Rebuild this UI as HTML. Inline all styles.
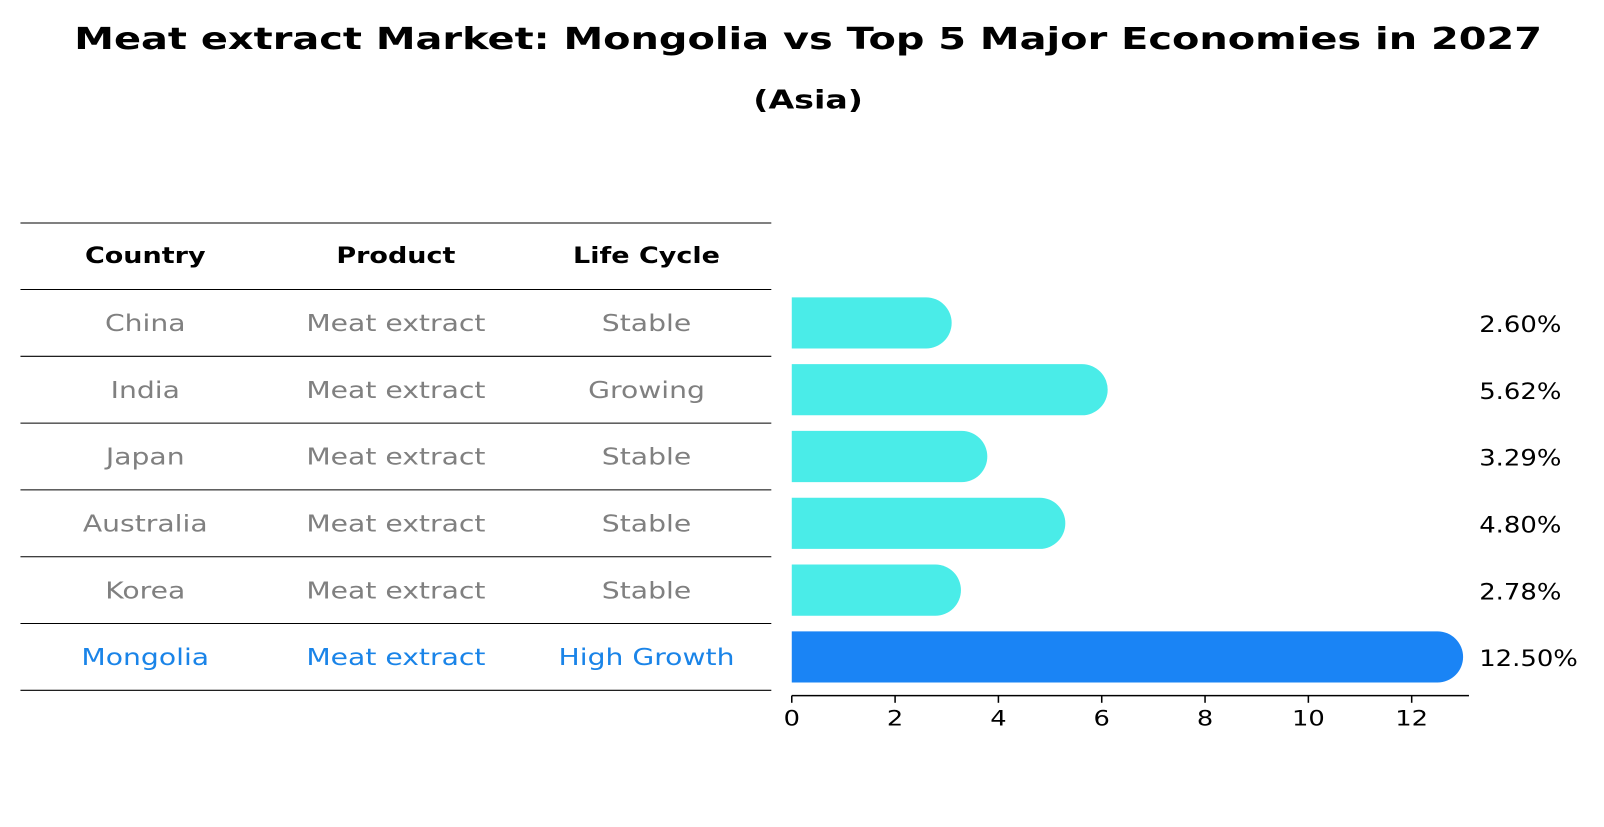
<!DOCTYPE html>
<html><head><meta charset="utf-8"><style>
body{margin:0;background:#fff;font-family:"DejaVu Sans","Liberation Sans",sans-serif;}
</style></head><body>
<svg width="1604" height="823" viewBox="0 0 1568 804.5" preserveAspectRatio="none" xmlns="http://www.w3.org/2000/svg" font-family="DejaVu Sans, Liberation Sans, sans-serif">
<text class="fit" data-k="1.3" x="790" y="48" text-anchor="middle" font-size="30" font-weight="bold">Meat extract Market: Mongolia vs Top 5 Major Economies in 2027</text>
<text class="fit" data-k="1.3" x="790" y="106" text-anchor="middle" font-size="25" font-weight="bold">(Asia)</text>
<g id="table"></g>
<g id="bars"></g>
</svg>
<script>
const countries=["China","India","Japan","Australia","Korea","Mongolia"];
const products=["Meat extract","Meat extract","Meat extract","Meat extract","Meat extract","Meat extract"];
const lifeCycles=["Stable","Growing","Stable","Stable","Stable","High Growth"];
const values=[2.60,5.62,3.29,4.80,2.78,12.50];
const xTicks=[0,2,4,6,8,10,12];
const NS="http://www.w3.org/2000/svg";
function mk(tag,attrs,parent){const e=document.createElementNS(NS,tag);for(const k in attrs)e.setAttribute(k,attrs[k]);parent.appendChild(e);return e;}
const tbl=document.getElementById('table');
const bars=document.getElementById('bars');
const x0=774, pxPerUnit=50.5;
function xs(v){return x0+v*pxPerUnit;}
const rowTop=283, rowH=65.3;
function rowY(i){return rowTop+rowH*i+rowH/2;}
const colX=[142,387,632];
const hl=mk('line',{x1:20,x2:754,y1:218,y2:218,stroke:'#000','stroke-width':1},tbl);


["Country","Product","Life Cycle"].forEach((h,j)=>{
  const t=mk('text',{x:colX[j],y:257,'text-anchor':'middle','font-size':22,'font-weight':'bold','class':'fit','data-k':'1.2'},tbl);
  t.textContent=h;
  
  
});
for(let i=0;i<=countries.length;i++){
  const l=mk('line',{x1:20,x2:754,y1:rowTop+rowH*i,y2:rowTop+rowH*i,stroke:'#000','stroke-width':1},tbl);
  
  
}
countries.forEach((c,i)=>{
  const col=i===countries.length-1?'#1a84e8':'#808080';
  [c,products[i],lifeCycles[i]].forEach((s,j)=>{
    const t=mk('text',{x:colX[j],y:rowY(i)+8,'text-anchor':'middle','font-size':23,fill:col,'class':'fit','data-k':'1.2'},tbl);
    t.textContent=s;
    
    
  });
  const bh=50, y=rowY(i)-bh/2, xe=xs(values[i]);
  const fill=i===countries.length-1?'#1a84f5':'#4aece8';
  const p=mk('path',{d:`M${x0},${y} H${xe} A${bh/2},${bh/2} 0 0 1 ${xe},${y+bh} H${x0} Z`,fill:fill},bars);
  
  
  const v=mk('text',{x:1446,y:rowY(i)+9,'font-size':22,fill:'#000','class':'fit','data-k':'1.15'},bars);
  v.textContent=values[i].toFixed(2)+'%';
  
  
});
const ax=mk('line',{x1:x0,x2:1436,y1:680,y2:680,stroke:'#000','stroke-width':1.5},bars);


xTicks.forEach(v=>{
  const tk=mk('line',{x1:xs(v),x2:xs(v),y1:680,y2:687,stroke:'#000','stroke-width':1.5},bars);
  
  
  const t=mk('text',{x:xs(v),y:709,'text-anchor':'middle','font-size':21,'class':'fit','data-k':'1.2'},bars);
  t.textContent=v;
  
  
});
document.querySelectorAll('.fit').forEach(t=>{
  const k=parseFloat(t.getAttribute('data-k'));
  const w=t.getComputedTextLength();
  if(w>0){t.setAttribute('textLength',(w*k).toFixed(1));t.setAttribute('lengthAdjust','spacingAndGlyphs');}
});
</script>
</body></html>
